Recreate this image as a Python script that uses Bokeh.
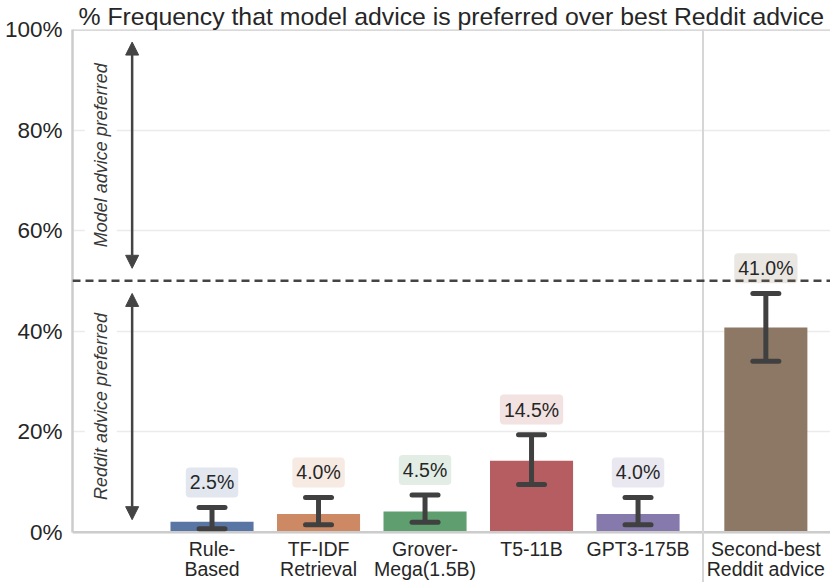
from bokeh.plotting import figure
from bokeh.models import (Range1d, FixedTicker, Span, Whisker, TeeHead, Arrow,
                          NormalHead, Label, ColumnDataSource, PrintfTickFormatter)
from bokeh.core.properties import value
from bokeh.embed import file_html
from bokeh.resources import INLINE

# ---- data ----
categories = ["Rule-\nBased", "TF-IDF\nRetrieval", "Grover-\nMega(1.5B)",
              "T5-11B", "GPT3-175B", "Second-best\nReddit advice"]
positions = [1, 2, 3, 4, 5, 6.2]
values = [2.1, 3.65, 4.1, 14.2, 3.65, 40.7]
ci_low = [0.7, 1.5, 2.0, 9.5, 1.5, 34.0]
ci_high = [4.9, 6.9, 7.4, 19.4, 6.9, 47.5]
labels = ["2.5%", "4.0%", "4.5%", "14.5%", "4.0%", "41.0%"]
colors = ["#5975a4", "#cc8963", "#5f9e6e", "#b55d60", "#857aab", "#8d7866"]
y_ticks = [0, 20, 40, 60, 80, 100]

FONT = "Liberation Sans"
TXT = "#262626"
DARK = "#404040"

src = ColumnDataSource(dict(x=positions, top=values, lo=ci_low, hi=ci_high,
                            color=colors, cat=categories))

p = figure(width=830, height=582, x_range=Range1d(-0.31, 6.807),
           y_range=Range1d(-10, 100), output_backend="svg",
           toolbar_location=None, min_border_left=72, min_border_right=0,
           min_border_top=0, min_border_bottom=0, x_axis_location=None)

p.title.text = "% Frequency that model advice is preferred over best Reddit advice"
p.title.text_font = FONT
p.title.text_font_size = "24.8px"
p.title.text_font_style = "normal"
p.title.text_color = TXT
p.title.align = "left"
p.title.standoff = 0
p.title.offset = 6

p.outline_line_color = None
p.background_fill_color = "white"
p.border_fill_color = "white"

# grid
p.xgrid.grid_line_color = None
p.ygrid.ticker = FixedTicker(ticks=y_ticks)
p.ygrid.grid_line_color = "#ebebeb"
p.ygrid.grid_line_width = 1.5

# y axis
ax = p.yaxis[0]
ax.ticker = FixedTicker(ticks=y_ticks)
ax.formatter = PrintfTickFormatter(format="%d%%")
ax.bounds = (0, 100)
ax.axis_label = None
ax.axis_line_color = "#cccccc"
ax.axis_line_width = 2.5
ax.major_tick_line_color = None
ax.minor_tick_line_color = None
ax.major_tick_out = 0
ax.major_tick_in = 0
ax.minor_tick_out = 0
ax.minor_tick_in = 0
ax.major_label_text_font = FONT
ax.major_label_text_color = TXT
ax.major_label_text_font_size = "22.5px"
ax.major_label_standoff = 10

# spines: bottom, top, separator
p.add_layout(Span(location=0, dimension="width", line_color="#cccccc", line_width=2.5))
p.add_layout(Span(location=100, dimension="width", line_color="#cccccc", line_width=2.5))
p.add_layout(Span(location=5.61, dimension="height", line_color="#d6d6d6", line_width=2))

# category labels under the bars
p.text(x="x", y=-1.1, text="cat", source=src, text_align="center",
       text_baseline="top", text_font=value(FONT), text_font_size="19.5px",
       text_color=TXT, text_line_height=0.92)

# bars
p.vbar(x="x", top="top", bottom=0, width=0.78, source=src,
       fill_color="color", line_color=None)

# error bars
p.add_layout(Whisker(source=src, base="x", upper="hi", lower="lo", level="annotation",
                     line_color=DARK, line_width=5,
                     upper_head=TeeHead(size=26, line_color=DARK, line_width=5, line_cap="round"),
                     lower_head=TeeHead(size=26, line_color=DARK, line_width=5, line_cap="round")))

# 50% dashed line
p.add_layout(Span(location=50, dimension="width", line_color="#444444",
                  line_width=2.5, line_dash="8 5"))

# arrows
for y0, y1 in [(52.5, 97.5), (47.5, 2.5)]:
    p.add_layout(Arrow(x_start=0.25, y_start=y0, x_end=0.25, y_end=y1,
                       line_color="#444444", line_width=2.5,
                       start=NormalHead(size=13, fill_color="#444444", line_color="#444444"),
                       end=NormalHead(size=13, fill_color="#444444", line_color="#444444")))

for txt, yy in [("Model advice preferred", 75), ("Reddit advice preferred", 25)]:
    p.add_layout(Label(x=-0.045, y=yy, text=txt, angle=90, angle_units="deg",
                       text_align="center", text_baseline="middle",
                       text_font=FONT, text_font_style="italic", text_font_size="18px",
                       text_color="#383838", background_fill_color="white",
                       padding=6))

# value labels
for x, h, lab, c in zip(positions, ci_high, labels, colors):
    p.add_layout(Label(x=x, y=h + 5, text=lab, text_align="center",
                       text_baseline="middle", text_font=FONT,
                       text_font_size="19.5px", text_color=TXT,
                       background_fill_color=c, background_fill_alpha=0.18,
                       padding=4, border_radius=4))

open("out.html", "w").write(file_html(p, INLINE))
